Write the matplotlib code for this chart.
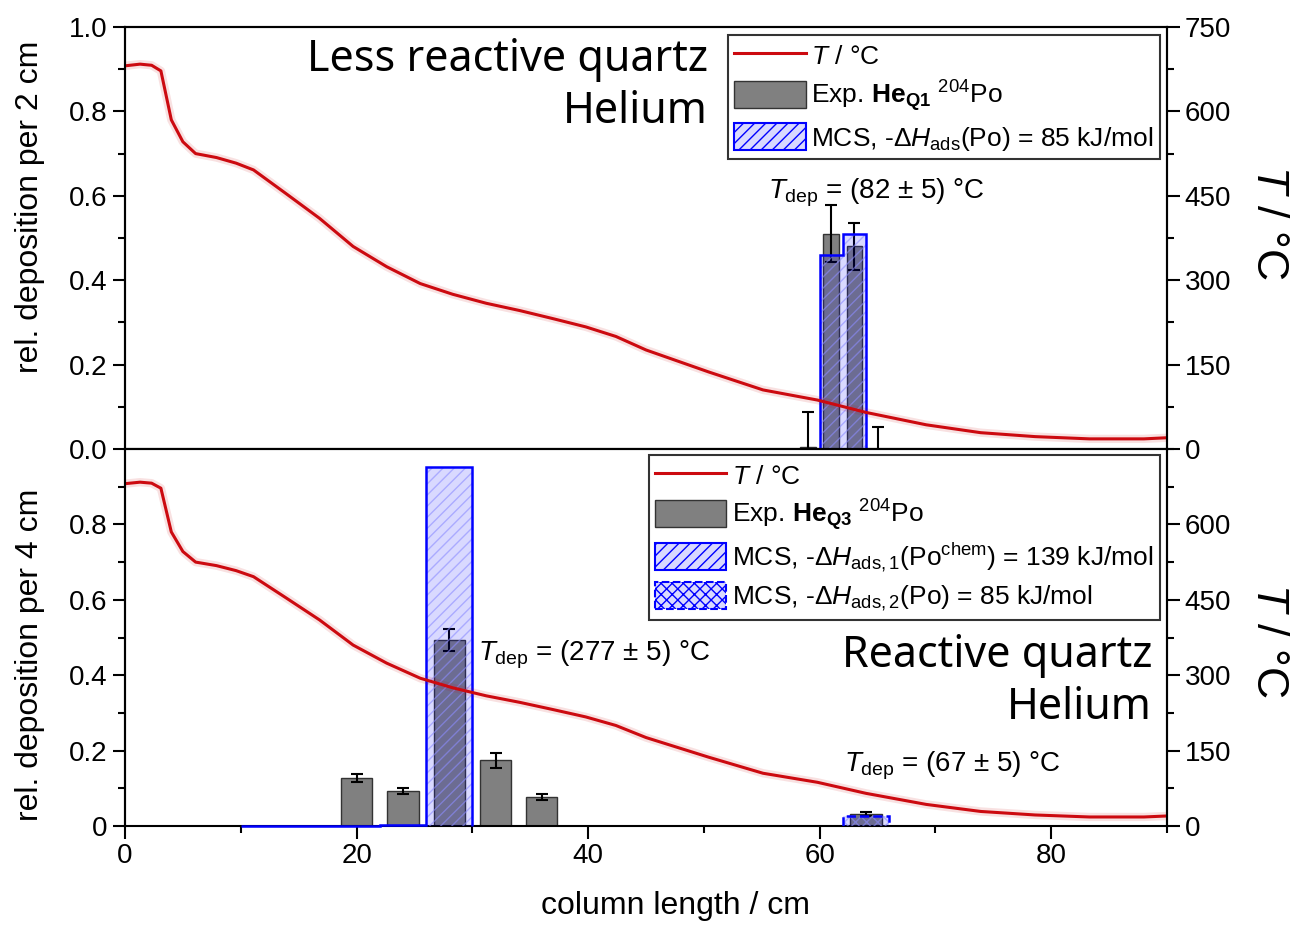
import matplotlib
matplotlib.use("Agg")
import matplotlib.pyplot as plt
from matplotlib.patches import Patch
from matplotlib.lines import Line2D
from matplotlib.ticker import MultipleLocator, FixedLocator

plt.rcParams['font.family'] = ['Liberation Sans', 'DejaVu Sans']
plt.rcParams['mathtext.fontset'] = 'custom'
plt.rcParams['mathtext.rm'] = 'Liberation Sans'
plt.rcParams['mathtext.it'] = 'Liberation Sans:italic'
plt.rcParams['mathtext.bf'] = 'Liberation Sans:bold'
plt.rcParams['hatch.linewidth'] = 1.0

# temperature profile along the column (same in both panels)
col_pos = [0, 1.3, 2.3, 3.1, 4.0, 5.0, 6.1, 7.9, 9.6, 11.1, 13.9, 16.8, 19.7, 22.6, 25.5,
           28.3, 31.2, 34.1, 36.9, 39.8, 42.4, 45.0, 50.4, 55.1, 59.8, 64.0, 69.2, 73.9,
           78.6, 83.3, 88.0, 90]
temp = [681, 684, 682, 672, 585, 546, 525, 518, 508, 496, 454, 410, 360, 324, 294,
        275, 259, 246, 232, 217, 200, 176, 137, 105, 87, 65, 43, 29,
        22, 18, 18, 20]

# top panel: He Q1, 2 cm bins
exp1_pos = [59, 61, 63, 65]
exp1_val = [0.005, 0.51, 0.48, 0.0]
exp1_err = [0.083, 0.068, 0.055, 0.053]
mcs1_edges = [60, 62, 64]
mcs1_val = [0.46, 0.51]

# bottom panel: He Q3, 4 cm bins
exp3_pos = [20, 24, 28, 32, 36, 64]
exp3_val = [0.127, 0.093, 0.493, 0.175, 0.077, 0.032]
exp3_err = [0.01, 0.009, 0.029, 0.02, 0.008, 0.005]
mcs3a_edges = [10, 14, 18, 22, 26, 30]
mcs3a_val = [0, 0, 0.001, 0.004, 0.952]
mcs3b_edges = [62, 66]
mcs3b_val = [0.027]

red = '#cc0a10'
grey = '#808080'
blue = '#0000ff'
fs = 20

fig = plt.figure(figsize=(12.94, 9.25), dpi=100)
ax1 = fig.add_axes([0.0966, 0.5146, 0.8053, 0.4562])
ax2 = fig.add_axes([0.0966, 0.1070, 0.8053, 0.4076])


def style(ax):
    for s in ax.spines.values():
        s.set_linewidth(1.5)
    ax.tick_params(which='both', direction='out', width=1.5, labelsize=fs)
    ax.tick_params(which='major', length=9)
    ax.tick_params(which='minor', length=5)


def temp_axis(ax, ticks):
    tx = ax.twinx()
    tx.set_ylim(0, 750)
    tx.yaxis.set_major_locator(FixedLocator(ticks))
    tx.yaxis.set_minor_locator(MultipleLocator(75))
    style(tx)
    tx.spines['bottom'].set_visible(False)
    tx.plot(col_pos, temp, color=red, lw=6, alpha=0.12, solid_capstyle='round')
    tx.plot(col_pos, temp, color=red, lw=2.2)
    return tx


# ---------------- top panel
ax1.bar(exp1_pos, exp1_val, width=1.35, color=grey, edgecolor='#333333', lw=1, zorder=2)
ax1.errorbar(exp1_pos, exp1_val, yerr=exp1_err, fmt='none', ecolor='black',
             elinewidth=1.5, capsize=4, capthick=1.5, zorder=3)
ax1.stairs(mcs1_val, mcs1_edges, fill=True, facecolor=(0, 0, 1, 0.15),
           edgecolor=(0.55, 0.55, 1, 0.6), hatch='///', lw=0, zorder=4)
ax1.stairs(mcs1_val, mcs1_edges, color=blue, lw=1.8, zorder=5)
ax1.set_xlim(0, 90)
ax1.set_ylim(0, 1.0)
ax1.yaxis.set_major_locator(MultipleLocator(0.2))
ax1.yaxis.set_minor_locator(MultipleLocator(0.1))
ax1.yaxis.set_major_formatter(matplotlib.ticker.FormatStrFormatter('%.1f'))
ax1.set_xticks([])
style(ax1)
ax1.set_ylabel('rel. deposition per 2 cm', fontsize=23)
ax1.yaxis.set_label_coords(-0.077, 0.573)
ax1.text(0.5595, 0.86, 'Less reactive quartz\nHelium', transform=ax1.transAxes,
         ha='right', va='center', ma='right', fontsize=31, family='Noto Sans',
         linespacing=1.25)
ax1.text(55.5, 0.607, r'$T_\mathrm{dep}$ = (82 ± 5) °C', fontsize=20, va='center')

tx1 = temp_axis(ax1, [0, 150, 300, 450, 600, 750])
tx1.set_ylabel(r'$T$ / °C', fontsize=32, rotation=-90, va='center')
tx1.yaxis.set_label_coords(1.097, 0.538)

h1 = [Line2D([], [], color=red, lw=2.2),
      Patch(facecolor=grey, edgecolor='#333333'),
      Patch(facecolor=(0.85, 0.85, 1), edgecolor=blue, hatch='///', lw=1.5)]
l1 = ['$T$ / °C', r'Exp. $\mathbf{He}_{\mathbf{Q1}}$ $^{204}$Po',
      r'MCS, -$\Delta H_\mathrm{ads}$(Po) = 85 kJ/mol']
leg1 = tx1.legend(h1, l1, loc='upper right', bbox_to_anchor=(0.993, 0.981), fontsize=19,
                  frameon=True, fancybox=False, edgecolor='black', handlelength=2.7,
                  handleheight=1.2, labelspacing=0.35, handletextpad=0.2, borderpad=0.25,
                  borderaxespad=0)
leg1.get_frame().set_linewidth(1.5)

# ---------------- bottom panel
ax2.bar(exp3_pos, exp3_val, width=2.7, color=grey, edgecolor='#333333', lw=1, zorder=2)
ax2.errorbar(exp3_pos, exp3_val, yerr=exp3_err, fmt='none', ecolor='black',
             elinewidth=1.5, capsize=4, capthick=1.5, zorder=3)
ax2.stairs(mcs3a_val, mcs3a_edges, fill=True, facecolor=(0, 0, 1, 0.15),
           edgecolor=(0.55, 0.55, 1, 0.6), hatch='///', lw=0, zorder=4)
ax2.stairs(mcs3a_val, mcs3a_edges, color=blue, lw=1.8, zorder=5, clip_on=False)
ax2.stairs(mcs3b_val, mcs3b_edges, fill=True, facecolor=(0, 0, 1, 0.15),
           edgecolor=(0.55, 0.55, 1, 0.6), hatch='xxx', lw=0, zorder=4)
ax2.stairs(mcs3b_val, mcs3b_edges, color=blue, lw=1.8, ls='--', zorder=5)
ax2.set_xlim(0, 90)
ax2.set_ylim(0, 1.0)
ax2.set_yticks([0, 0.2, 0.4, 0.6, 0.8])
ax2.set_yticklabels(['0', '0.2', '0.4', '0.6', '0.8'])
ax2.yaxis.set_minor_locator(FixedLocator([0.1, 0.3, 0.5, 0.7, 0.9]))
ax2.xaxis.set_major_locator(MultipleLocator(20))
ax2.xaxis.set_minor_locator(MultipleLocator(10))
style(ax2)
ax2.set_xlabel('column length / cm', fontsize=23)
ax2.xaxis.set_label_coords(0.528, -0.172)
ax2.set_ylabel('rel. deposition per 4 cm', fontsize=23)
ax2.yaxis.set_label_coords(-0.077, 0.454)
ax2.text(0.9856, 0.382, 'Reactive quartz\nHelium', transform=ax2.transAxes,
         ha='right', va='center', ma='right', fontsize=31, family='Noto Sans',
         linespacing=1.25)
ax2.text(30.5, 0.454, r'$T_\mathrm{dep}$ = (277 ± 5) °C', fontsize=20, va='center')
ax2.text(62.1, 0.159, r'$T_\mathrm{dep}$ = (67 ± 5) °C', fontsize=20, va='center')

tx2 = temp_axis(ax2, [0, 150, 300, 450, 600])
tx2.set_ylabel(r'$T$ / °C', fontsize=32, rotation=-90, va='center')
tx2.yaxis.set_label_coords(1.097, 0.493)

h2 = [Line2D([], [], color=red, lw=2.2),
      Patch(facecolor=grey, edgecolor='#333333'),
      Patch(facecolor=(0.85, 0.85, 1), edgecolor=blue, hatch='///', lw=1.5),
      Patch(facecolor=(0.85, 0.85, 1), edgecolor=blue, hatch='xxx', lw=1.5, ls='--')]
l2 = ['$T$ / °C', r'Exp. $\mathbf{He}_{\mathbf{Q3}}$ $^{204}$Po',
      r'MCS, -$\Delta H_\mathrm{ads,1}$(Po$^\mathrm{chem}$) = 139 kJ/mol',
      r'MCS, -$\Delta H_\mathrm{ads,2}$(Po) = 85 kJ/mol']
leg2 = tx2.legend(h2, l2, loc='upper right', bbox_to_anchor=(0.993, 0.984), fontsize=19,
                  frameon=True, fancybox=False, edgecolor='black', handlelength=2.7,
                  handleheight=1.2, labelspacing=0.3, handletextpad=0.2, borderpad=0.25,
                  borderaxespad=0)
leg2.get_frame().set_linewidth(1.5)

fig.savefig('out.png', dpi=100)
